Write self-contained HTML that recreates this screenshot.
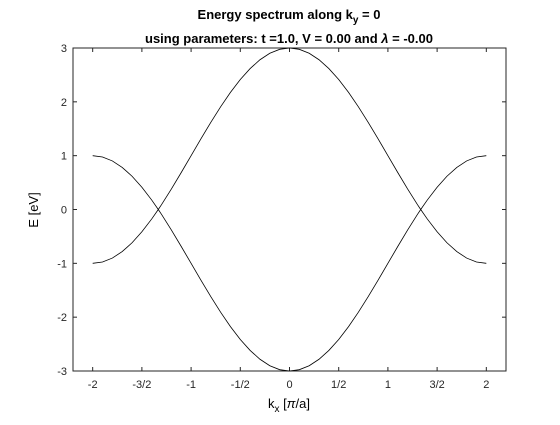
<!DOCTYPE html>
<html><head><meta charset="utf-8"><style>
body{margin:0;background:#fff;width:560px;height:420px;overflow:hidden;font-family:"Liberation Sans",Arial,sans-serif}
</style></head><body>
<svg id="chart" width="560" height="420" xmlns="http://www.w3.org/2000/svg" font-family="Liberation Sans, Arial, sans-serif">
<rect width="560" height="420" fill="#fff"/>
<text x="289" y="19" text-anchor="middle" font-size="13" font-weight="bold">Energy spectrum along k<tspan font-size="10" dy="4">y</tspan><tspan dy="-4"> = 0</tspan></text>
<text x="289" y="43" text-anchor="middle" font-size="13" font-weight="bold">using parameters: t =1.0, V = 0.00 and <tspan font-style="italic">λ</tspan> = -0.00</text>
<g id="plot"></g>
<text x="289" y="408" text-anchor="middle" font-size="13">k<tspan font-size="10" dy="4">x</tspan><tspan dy="-4"> [</tspan><tspan font-style="italic">π</tspan>/a]</text>
<text transform="translate(38,210) rotate(-90)" text-anchor="middle" font-size="13">E [eV]</text>
</svg>
<script>
const kx=[-2,-1.9,-1.8,-1.7,-1.6,-1.5,-1.4,-1.3333,-1.3,-1.2,-1.1,-1,-0.9,-0.8,-0.7,-0.6,-0.5,-0.4,-0.3,-0.2,-0.1,0,0.1,0.2,0.3,0.4,0.5,0.6,0.7,0.8,0.9,1,1.1,1.2,1.3,1.3333,1.4,1.5,1.6,1.7,1.8,1.9,2];
const upperBand=[1,0.9754,0.9021,0.782,0.618,0.4142,0.1756,0,0.092,0.382,0.6871,1,1.3129,1.618,1.908,2.1756,2.4142,2.618,2.782,2.9021,2.9754,3,2.9754,2.9021,2.782,2.618,2.4142,2.1756,1.908,1.618,1.3129,1,0.6871,0.382,0.092,0,0.1756,0.4142,0.618,0.782,0.9021,0.9754,1];
const lowerBand=[-1,-0.9754,-0.9021,-0.782,-0.618,-0.4142,-0.1756,0,-0.092,-0.382,-0.6871,-1,-1.3129,-1.618,-1.908,-2.1756,-2.4142,-2.618,-2.782,-2.9021,-2.9754,-3,-2.9754,-2.9021,-2.782,-2.618,-2.4142,-2.1756,-1.908,-1.618,-1.3129,-1,-0.6871,-0.382,-0.092,0,-0.1756,-0.4142,-0.618,-0.782,-0.9021,-0.9754,-1];
const xTicks=[-2,-1.5,-1,-0.5,0,0.5,1,1.5,2];
const xTickLabels=["-2","-3/2","-1","-1/2","0","1/2","1","3/2","2"];
const yTicks=[-3,-2,-1,0,1,2,3];
const yTickLabels=["-3","-2","-1","0","1","2","3"];
const L=73,R=506,T=48,B=371,xmin=-2.2,xmax=2.2,ymin=-3,ymax=3;
const sx=v=>L+(v-xmin)/(xmax-xmin)*(R-L);
const sy=v=>B-(v-ymin)/(ymax-ymin)*(B-T);
const g=document.getElementById('plot');
const NS='http://www.w3.org/2000/svg';
function mk(t,a){const e=document.createElementNS(NS,t);for(const k in a)e.setAttribute(k,a[k]);g.appendChild(e);return e;}
const box=mk('rect',{x:L,y:T,width:R-L,height:B-T,fill:'#fff',stroke:'#262626','stroke-width':1});


xTicks.forEach((v,i)=>{
 const x=sx(v);
 const t1=mk('line',{x1:x,x2:x,y1:B,y2:B-4,stroke:'#262626'});
 
 
 const t2=mk('line',{x1:x,x2:x,y1:T,y2:T+4,stroke:'#262626'});
 
 
 const tx=mk('text',{x:x,y:B+17,'text-anchor':'middle','font-size':11,fill:'#262626'});
 tx.textContent=xTickLabels[i];
 
 
});
yTicks.forEach((v,i)=>{
 const y=sy(v);
 const t1=mk('line',{x1:L,x2:L+4,y1:y,y2:y,stroke:'#262626'});
 
 
 const t2=mk('line',{x1:R,x2:R-4,y1:y,y2:y,stroke:'#262626'});
 
 
 const tx=mk('text',{x:L-6,y:y+4,'text-anchor':'end','font-size':11,fill:'#262626'});
 tx.textContent=yTickLabels[i];
 
 
});
function path(vals){return kx.map((k,i)=>(i?'L':'M')+sx(k).toFixed(2)+','+sy(vals[i]).toFixed(2)).join(' ');}
const up=mk('path',{d:path(upperBand),fill:'none',stroke:'#000','stroke-width':0.8});


const lo=mk('path',{d:path(lowerBand),fill:'none',stroke:'#000','stroke-width':0.8});


</script>
</body></html>
